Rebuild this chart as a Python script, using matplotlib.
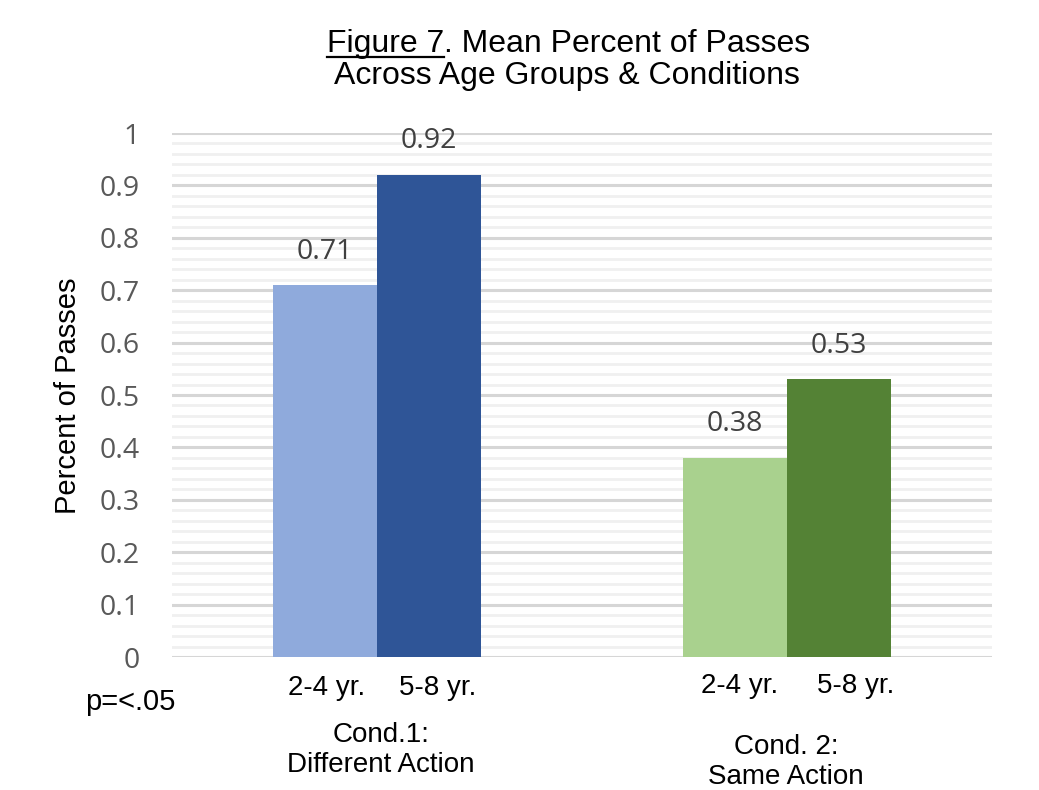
import matplotlib
matplotlib.use("Agg")
import matplotlib.pyplot as plt
import numpy as np
from matplotlib.ticker import MultipleLocator

# Data
conditions = ["Cond.1:\nDifferent Action", "Cond. 2:\nSame Action"]
age_groups = ["2-4 yr.", "5-8 yr."]
young_means = [0.71, 0.38]
older_means = [0.92, 0.53]
y_ticks = [0, 0.1, 0.2, 0.3, 0.4, 0.5, 0.6, 0.7, 0.8, 0.9, 1]
y_tick_labels = ["0", "0.1", "0.2", "0.3", "0.4", "0.5", "0.6", "0.7", "0.8", "0.9", "1"]

young_colors = ["#8faadc", "#a9d18e"]
older_colors = ["#2f5597", "#548235"]

W, H, DPI = 1039, 790, 100
fig = plt.figure(figsize=(W / DPI, H / DPI), dpi=DPI)

def px(x, y):
    return x / W, 1 - y / H

ax = fig.add_axes([172 / W, 1 - 657 / H, 820 / W, 524 / H])

x = np.arange(len(conditions))
bw = 0.254
b1 = ax.bar(x - bw / 2, young_means, bw, color=young_colors, zorder=3)
b2 = ax.bar(x + bw / 2, older_means, bw, color=older_colors, zorder=3)

label_font = dict(family="Open Sans", size=20.5, color="#404040")
for bars in (b1, b2):
    ax.bar_label(bars, labels=[f"{v:.2f}" for v in bars.datavalues],
                 padding=14, **label_font)

ax.set_xlim(-0.5, len(conditions) - 0.5)
ax.set_ylim(0, 1)
ax.set_yticks(y_ticks)
ax.set_yticklabels(y_tick_labels, family="Open Sans", fontsize=20.5, color="#595959")
ax.yaxis.set_minor_locator(MultipleLocator(0.02))
ax.tick_params(axis="y", which="both", length=0, pad=23)
ax.set_xticks([])
ax.grid(axis="y", which="minor", color="#f0f0f0", linewidth=2.0, zorder=0)
ax.grid(axis="y", which="major", color="#d6d6d6", linewidth=2.2, zorder=1)
for s in ax.spines.values():
    s.set_visible(False)

# Age-group labels under each bar
text_font = dict(family="Liberation Sans", size=20, color="black")
age_dx = [[0.003, 0.02], [0.012, 0.04]]
for i in range(len(conditions)):
    for j, lab in enumerate(age_groups):
        xc = x[i] + (j - 0.5) * bw + age_dx[i][j]
        ax.text(xc, -0.072 + 0.004 * i, lab, ha="center", va="baseline",
                transform=ax.get_xaxis_transform(), **text_font)

# Condition labels
cond_pos = [(381, 742), (786, 754)]
for (cx, cy), lab in zip(cond_pos, conditions):
    first, second = lab.split("\n")
    fig.text(*px(cx, cy), first, ha="center", va="baseline", **text_font)
    fig.text(*px(cx, cy + 30), second, ha="center", va="baseline", **text_font)

fig.text(*px(85, 710), "p=<.05", ha="left", va="baseline",
         family="Liberation Sans", size=21, color="black")

# Axis title
fig.text(*px(68, 396), "Percent of Passes", rotation=90, ha="center", va="center",
         family="Liberation Sans", size=21, color="black")

# Chart title with underlined figure number
title_font = dict(family="Liberation Sans", size=23, color="black")
t1 = fig.text(*px(327, 52), "Figure 7", ha="left", va="baseline", **title_font)
fig.canvas.draw()
r = fig.canvas.get_renderer()
bb = t1.get_window_extent(r)
fig.text(bb.x1 / W, 1 - 52 / H, ". Mean Percent of Passes", ha="left", va="baseline", **title_font)
fig.add_artist(plt.Line2D([bb.x0 / W, bb.x1 / W], [1 - 57 / H, 1 - 57 / H],
                          color="black", linewidth=1.6, transform=fig.transFigure))
fig.text(*px(334, 84), "Across Age Groups & Conditions", ha="left", va="baseline", **title_font)

fig.savefig("out.png", dpi=DPI, facecolor="white")
